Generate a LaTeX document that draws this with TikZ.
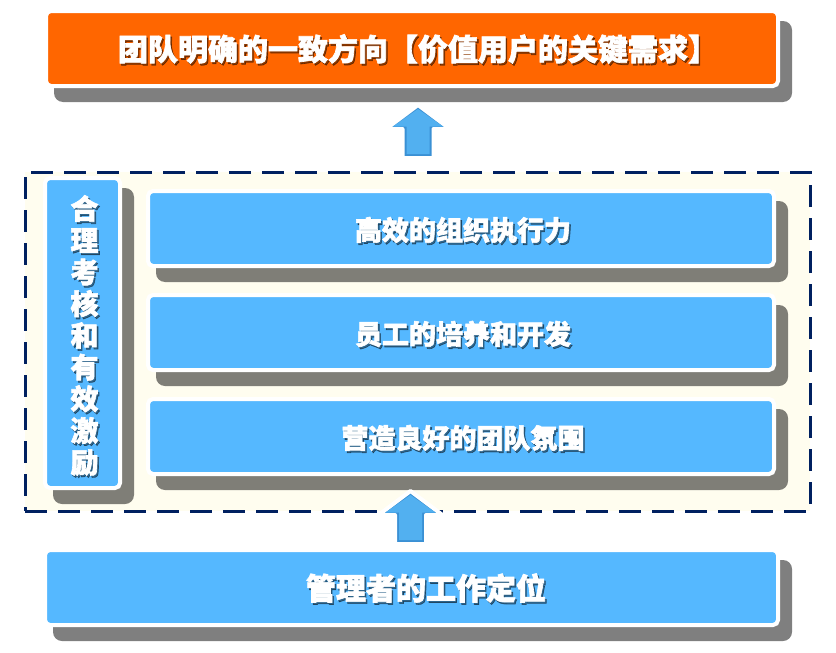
\documentclass[tikz,border=0pt]{standalone}
\usepackage{fontspec}
\newfontfamily\cjk{Noto Sans CJK SC}[BoldFeatures={FakeBold=2.2}]
\pgfdeclarelayer{framelayer}
\pgfdeclarelayer{shadlayer}
\pgfsetlayers{framelayer,shadlayer,main}
\definecolor{boxblue}{HTML}{55B8FF}
\definecolor{orng}{HTML}{FF6600}
\definecolor{navy}{HTML}{002060}
\definecolor{cream}{HTML}{FFFDEF}
\definecolor{arrdark}{HTML}{3A90D4}
\definecolor{arrlight}{HTML}{52B0F0}
\tikzset{
  box/.style={draw=white, line width=4pt, fill=boxblue, rounded corners=5pt,
    inner sep=0pt, outer sep=0pt},
  shadowbox/.style={fill=black, fill opacity=0.5, rounded corners=9pt},
  txt/.style={text=white, inner sep=0pt, align=center},
  txtsh/.style={text=black, text opacity=0.45, inner sep=0pt, align=center},
  uparr/.pic={
    \filldraw[draw=white, line width=4pt, fill=arrdark, line join=round]
      (0,-53) -- (32,-29) -- (15.5,-29) -- (15.5,0) -- (-15.5,0) -- (-15.5,-29) -- (-32,-29) -- cycle;
    \fill[arrlight] (0,-49) -- (25,-31.5) -- (11.5,-31.5) -- (11.5,-4) -- (-11.5,-4)
      -- (-11.5,-31.5) -- (-25,-31.5) -- cycle;
  }
}
\newcommand\shtxt[5]{%
  \node[txtsh, font=\cjk\bfseries\fontsize{#3}{#4}\selectfont] at ([shift={(1.6,2)}]#2) {#5};
  \node[txt, font=\cjk\bfseries\fontsize{#3}{#4}\selectfont] (#1) at (#2) {#5};}
\begin{document}
\begin{tikzpicture}[x=1pt,y=-1pt]
\useasboundingbox (0,0) rectangle (836,653);
\begin{pgfonlayer}{framelayer}
  \fill[white] (0,0) rectangle (836,653);
  \node[draw=navy, line width=3pt, dash pattern=on 22pt off 11pt, fill=cream,
    minimum width=785pt, minimum height=339pt, inner sep=0pt, outer sep=0pt]
    (frame) at (417.5,341.5) {};
\end{pgfonlayer}
% boxes
\node[box, fill=orng, minimum width=732pt, minimum height=75pt] (goal) at (412,48.5) {};
\node[box, minimum width=626pt, minimum height=75pt] (r1) at (461,228.5) {};
\node[box, minimum width=626pt, minimum height=75pt] (r2) at (461,332.5) {};
\node[box, minimum width=626pt, minimum height=75pt] (r3) at (461,436.5) {};
\node[box, minimum width=75pt, minimum height=310pt] (side) at (82.5,333) {};
\node[box, minimum width=733pt, minimum height=75pt] (base) at (411.5,587.5) {};
% shadows
\begin{pgfonlayer}{shadlayer}
  \foreach \n in {goal,r1,r2,r3,side,base}
    \fill[shadowbox] ([shift={(8,10)}]\n.north west) rectangle ([shift={(14,16)}]\n.south east);
\end{pgfonlayer}
% arrows
\pic at (418,158) {uparr};
\pic at (410.5,544) {uparr};
% texts
\shtxt{tgoal}{418,49}{30}{30}{团队明确的一致方向【价值用户的关键需求】}
\shtxt{tr1}{463,230}{27}{27}{高效的组织执行力}
\shtxt{tr2}{463,334}{27}{27}{员工的培养和开发}
\shtxt{tr3}{463,438}{27}{27}{营造良好的团队氛围}
\shtxt{tbase}{426,588}{30}{30}{管理者的工作定位}
\shtxt{tside}{84.5,335.5}{28}{31.7}{合\\理\\考\\核\\和\\有\\效\\激\\励}
\end{tikzpicture}
\end{document}
